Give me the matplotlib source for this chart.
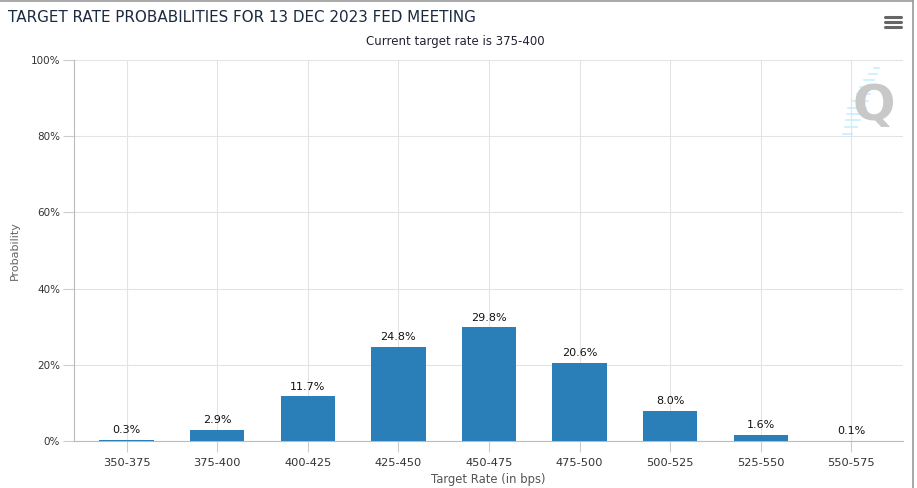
import matplotlib
matplotlib.use("Agg")
import matplotlib.pyplot as plt
from matplotlib.lines import Line2D

categories = ["350-375", "375-400", "400-425", "425-450", "450-475",
              "475-500", "500-525", "525-550", "550-575"]
probabilities = [0.3, 2.9, 11.7, 24.8, 29.8, 20.6, 8.0, 1.6, 0.1]
y_ticks = [0, 20, 40, 60, 80, 100]

W, H = 917, 488
fig = plt.figure(figsize=(W / 100, H / 100), dpi=100)
fig.patch.set_facecolor("white")

ax = fig.add_axes([74 / W, (H - 441) / H, (903 - 74) / W, (441 - 60) / H])
x = list(range(len(categories)))
ax.bar(x, probabilities, width=0.6, color="#2a7fb8", zorder=3)
for xi, v in zip(x, probabilities):
    ax.text(xi, v + 1.2, f"{v:.1f}%", ha="center", va="bottom",
            fontsize=8, color="#111111", zorder=4)

ax.set_xlim(-0.58, 8.57)
ax.set_ylim(0, 100)
ax.set_yticks(y_ticks)
ax.set_yticklabels([f"{t}%" for t in y_ticks], fontsize=7.5, color="#333333")
ax.set_xticks(x)
ax.set_xticklabels(categories, fontsize=8.2, color="#333333")
ax.grid(True, color="#e3e3e3", linewidth=0.8, zorder=0)
ax.set_axisbelow(True)
for s in ["top", "right"]:
    ax.spines[s].set_visible(False)
ax.spines["left"].set_color("#bbbbbb")
ax.spines["bottom"].set_color("#bbbbbb")
ax.tick_params(axis="y", length=8, color="#cccccc", pad=2)
ax.tick_params(axis="x", length=8, color="#cccccc", pad=4)
ax.set_ylabel("Probability", fontsize=8, color="#666666", labelpad=8)
ax.set_xlabel("Target Rate (in bps)", fontsize=8.4, color="#555555", labelpad=5)
ax.xaxis.set_label_coords(0.5, -0.085)

fig.text(8 / W, 1 - 17 / H, "TARGET RATE PROBABILITIES FOR 13 DEC 2023 FED MEETING",
         fontsize=10.9, color="#1a2a40", ha="left", va="center")
fig.text(455 / W, 1 - 42 / H, "Current target rate is 375-400",
         fontsize=8.5, color="#222233", ha="center", va="center")

# hamburger menu icon
for yy in [17, 22, 27]:
    fig.add_artist(Line2D([885 / W, 901 / W], [1 - yy / H, 1 - yy / H],
                          color="#666666", linewidth=2.2, solid_capstyle="round"))

# watermark Q logo
for yy, x0, x1 in [(68, 874, 879), (74, 869, 877), (80, 864, 874),
                   (87, 860, 872), (94, 857, 870), (101, 852, 868),
                   (108, 848, 866), (114, 847, 864), (120, 846, 860),
                   (127, 845, 857), (134, 843, 852)]:
    fig.add_artist(Line2D([x0 / W, x1 / W], [1 - yy / H, 1 - yy / H],
                          color="#bfefff", linewidth=1.2, alpha=0.9))
fig.text(874 / W, 1 - 106 / H, "Q", fontsize=36, fontweight="bold",
         color="#c8c8c8", ha="center", va="center")

# outer frame lines (top and right)
fig.add_artist(Line2D([0, 913 / W], [1 - 1 / H, 1 - 1 / H], color="#999999", linewidth=1.2))
fig.add_artist(Line2D([913 / W, 913 / W], [0, 1 - 1 / H], color="#999999", linewidth=1.2))

fig.savefig("out.png", dpi=100)
